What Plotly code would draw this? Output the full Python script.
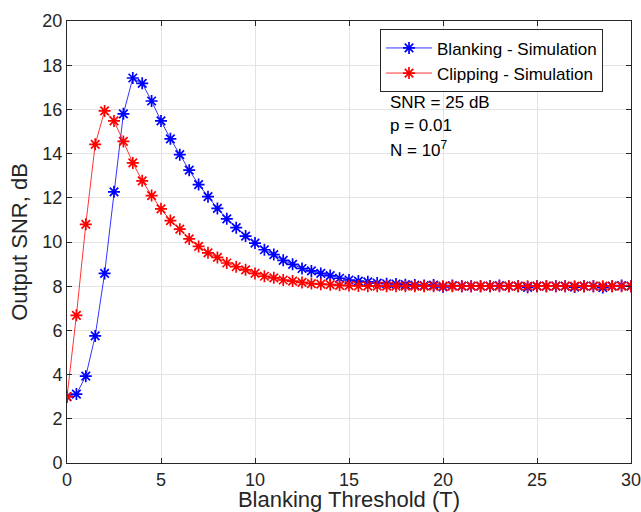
import plotly.graph_objects as go

# blanking threshold values (T), step 0.5
threshold = [i * 0.5 for i in range(61)]

blanking_snr = [
    3.00, 3.12, 3.93, 5.75, 8.58, 12.27, 15.80, 17.42, 17.18, 16.38,
    15.48, 14.67, 13.95, 13.25, 12.60, 12.05, 11.52, 11.05, 10.65, 10.27,
    9.95, 9.65, 9.43, 9.17, 8.99, 8.80, 8.69, 8.58, 8.48, 8.36,
    8.28, 8.23, 8.20, 8.14, 8.11, 8.10, 8.07, 8.05, 8.03, 8.05,
    7.97, 8.03, 8.00, 8.00, 8.00, 8.00, 8.03, 8.00, 8.00, 7.95,
    8.00, 8.00, 8.00, 8.00, 7.96, 8.00, 8.00, 7.94, 8.00, 8.03,
    8.00,
]

clipping_snr = [
    3.00, 6.68, 10.80, 14.42, 15.93, 15.48, 14.55, 13.58, 12.77, 12.10,
    11.50, 10.97, 10.58, 10.14, 9.80, 9.51, 9.30, 9.05, 8.88, 8.74,
    8.58, 8.45, 8.38, 8.28, 8.23, 8.17, 8.12, 8.09, 8.07, 8.04,
    8.03, 8.01, 8.00, 8.00, 8.00, 8.00, 8.00, 8.00, 8.00, 8.00,
    8.00, 8.00, 8.00, 8.00, 8.00, 8.00, 8.00, 8.00, 8.00, 8.00,
    8.00, 8.00, 8.00, 8.00, 8.00, 8.00, 8.00, 8.00, 8.00, 8.00,
    8.00,
]

notes = ["SNR = 25 dB", "p = 0.01", "N = 10<sup>7</sup>"]

font = "Liberation Sans, Arial, sans-serif"
axis_col = "#262626"

fig = go.Figure()

fig.add_trace(
    go.Scatter(
        x=threshold,
        y=blanking_snr,
        mode="lines+markers",
        name="Blanking - Simulation",
        line=dict(color="#0000ff", width=0.8),
        marker=dict(symbol="asterisk-open", size=10,
                    line=dict(color="#0000ff", width=1.7)),
    )
)
fig.add_trace(
    go.Scatter(
        x=threshold,
        y=clipping_snr,
        mode="lines+markers",
        name="Clipping - Simulation",
        line=dict(color="#ff0000", width=0.8),
        marker=dict(symbol="asterisk-open", size=10,
                    line=dict(color="#ff0000", width=1.7)),
    )
)

#text box under the legend
for i, txt in enumerate(notes):
    fig.add_annotation(
        x=0.569, y=0.816 - i * 0.053,
        xref="paper", yref="paper",
        xanchor="left", yanchor="middle",
        text=txt, showarrow=False,
        font=dict(size=17, color="black", family=font),
    )

fig.update_xaxes(
    range=[0, 30],
    dtick=5,
    showgrid=True,
    gridcolor="#e3e3e3",
    zeroline=False,
    showline=True,
    linecolor=axis_col,
    linewidth=1,
    mirror="ticks",
    ticks="inside",
    ticklen=5,
    tickcolor=axis_col,
    ticklabeloverflow="allow",
    automargin=False,
    tickfont=dict(size=18, color=axis_col, family=font),
    title=dict(text="Blanking Threshold (T)", standoff=6,
               font=dict(size=22, color=axis_col, family=font)),
)
fig.update_yaxes(
    range=[0, 20],
    dtick=2,
    showgrid=True,
    gridcolor="#e3e3e3",
    zeroline=False,
    showline=True,
    linecolor=axis_col,
    linewidth=1,
    mirror="ticks",
    ticks="inside",
    ticklen=5,
    tickcolor=axis_col,
    automargin=False,
    tickfont=dict(size=18, color=axis_col, family=font),
    title=dict(text="Output SNR, dB", standoff=8,
               font=dict(size=22, color=axis_col, family=font)),
)

fig.update_layout(
    width=641,
    height=512,
    margin=dict(l=67, r=10, t=21, b=49),
    paper_bgcolor="white",
    plot_bgcolor="white",
    legend=dict(
        x=0.555, y=0.981,
        xanchor="left", yanchor="top",
        bgcolor="white",
        bordercolor=axis_col,
        borderwidth=1,
        itemwidth=46,
        font=dict(size=17, color="black", family=font),
        tracegroupgap=0,
    ),
)

# drop the default body margin so the figure sits at the window corner
fig.write_html(
    "out.html",
    config={"displayModeBar": False},
    post_script="document.body.style.margin='0';document.body.style.overflow='hidden';",
)
